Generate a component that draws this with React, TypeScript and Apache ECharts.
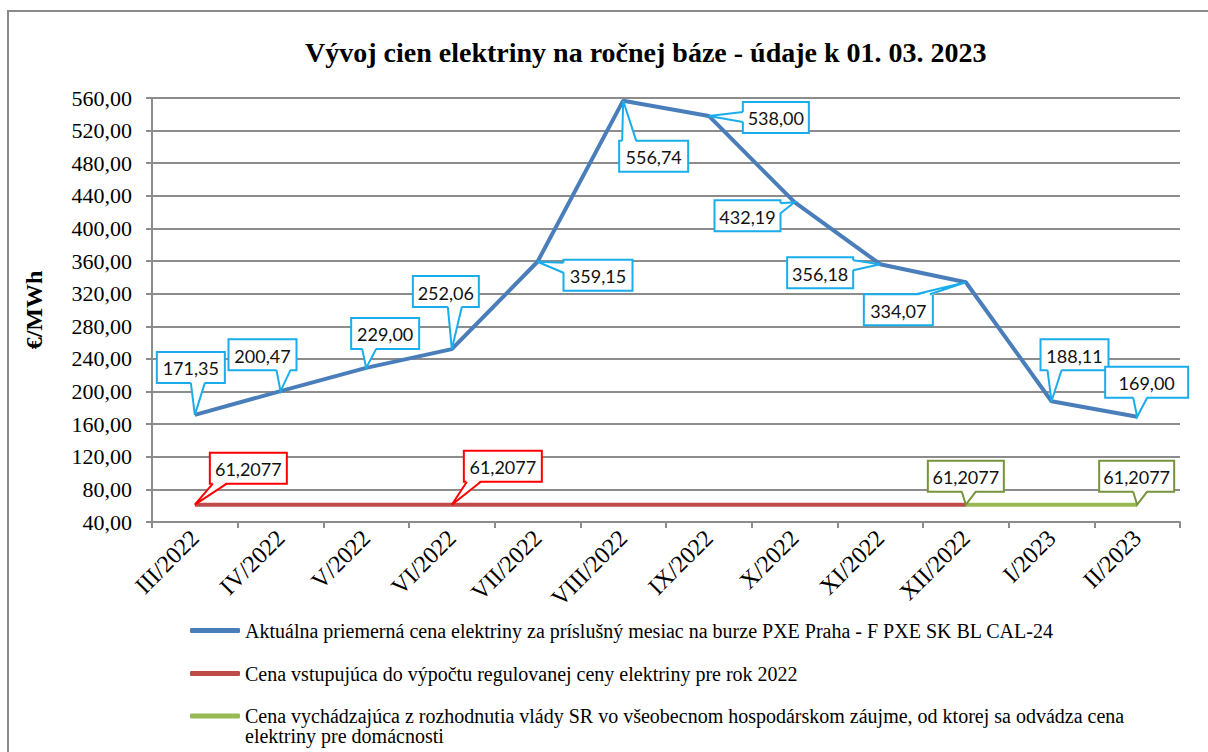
import React, { useEffect, useRef } from "react";
import * as echarts from "echarts";

const TITLE = "Vývoj cien elektriny na ročnej báze - údaje k 01. 03. 2023";
const Y_NAME = "€/MWh";

const categories = [
  "III/2022", "IV/2022", "V/2022", "VI/2022", "VII/2022", "VIII/2022",
  "IX/2022", "X/2022", "XI/2022", "XII/2022", "I/2023", "II/2023",
];

const seriesNames = [
  "Aktuálna priemerná cena elektriny za príslušný mesiac na burze PXE Praha - F PXE SK BL CAL-24",
  "Cena vstupujúca do výpočtu regulovanej ceny elektriny pre rok 2022",
  "Cena vychádzajúca z rozhodnutia vlády SR vo všeobecnom hospodárskom záujme, od ktorej sa odvádza cena elektriny pre domácnosti",
];

const pxeValues = [171.35, 200.47, 229.0, 252.06, 359.15, 556.74, 538.0, 432.19, 356.18, 334.07, 188.11, 169.0];
const regulated2022 = [61.2077, 61.2077, 61.2077, 61.2077, 61.2077, 61.2077, 61.2077, 61.2077, 61.2077, 61.2077, null, null];
const governmentPrice = [null, null, null, null, null, null, null, null, null, 61.2077, 61.2077, 61.2077];

// which points carry a callout label
const pxeLabelIdx = [0, 1, 2, 3, 4, 5, 6, 7, 8, 9, 10, 11];
const regulatedLabelIdx = [0, 3];
const governmentLabelIdx = [9, 11];

// callout box layout relative to its point: [dx, dy, width]
const pxeBoxes = [
  [-38, -63, 68], [-52, -52, 68], [-15, -50, 68], [-39, -73, 66],
  [26, -2, 69], [-4, 40, 69], [34, -14, 66], [-80, -2, 66],
  [-93, -7, 66], [-102, 12, 69], [-11, -62, 68], [-32, -50, 83],
];
const regulatedBoxes = [[15, -52, 77], [12, -54, 78]];
const governmentBoxes = [[-38, -44, 76], [-38, -44, 75]];

const BLUE = "#4A7EBB";
const RED = "#BE4B48";
const GREEN = "#98B954";
const GRID = "#8C8C8C";
const SERIF = "'Liberation Serif', 'Times New Roman', serif";
const LABEL_FONT = "Lato, 'Noto Sans', sans-serif";

function fmt(v: number, d: number) {
  return v.toFixed(d).replace(".", ",");
}

function calloutSeries(values: (number | null)[], idx: number[], boxes: number[][], color: string, decimals: number) {
  const data = idx.map((i) => [i, values[i] as number]);
  return {
    type: "custom",
    z: 10,
    clip: false,
    silent: true,
    data,
    renderItem: (params: any, api: any) => {
      const k = params.dataIndex;
      const val = api.value(1);
      const p = api.coord([api.value(0), val]);
      const [dx, dy, w] = boxes[k];
      const h = 31;
      const x0 = p[0] + dx;
      const y0 = p[1] + dy;
      const x1 = x0 + w;
      const y1 = y0 + h;
      const clamp = (v: number, a: number, b: number) => Math.max(a, Math.min(b, v));
      let b1: number[], b2: number[], i1: number[], i2: number[];
      if (p[1] > y1) {
        const s = clamp(p[0] - 4, x0 + 3, x1 - 17);
        b1 = [s, y1]; b2 = [s + 14, y1]; i1 = [s, y1 - 1.5]; i2 = [s + 14, y1 - 1.5];
      } else if (p[1] < y0) {
        const s = clamp(p[0] - 4, x0 + 3, x1 - 17);
        b1 = [s, y0]; b2 = [s + 14, y0]; i1 = [s, y0 + 1.5]; i2 = [s + 14, y0 + 1.5];
      } else if (p[0] < x0) {
        const s = clamp(p[1] - 4, y0 + 3, y1 - 15);
        b1 = [x0, s]; b2 = [x0, s + 10]; i1 = [x0 + 1.5, s]; i2 = [x0 + 1.5, s + 10];
      } else {
        const s = clamp(p[1] - 4, y0 + 3, y1 - 15);
        b1 = [x1, s]; b2 = [x1, s + 10]; i1 = [x1 - 1.5, s]; i2 = [x1 - 1.5, s + 10];
      }
      return {
        type: "group",
        children: [
          { type: "rect", shape: { x: x0, y: y0, width: w, height: h }, style: { fill: "#fff", stroke: color, lineWidth: 2 } },
          { type: "polygon", shape: { points: [i1, i2, p] }, style: { fill: "#fff" } },
          { type: "polyline", shape: { points: [b1, p, b2] }, style: { fill: null, stroke: color, lineWidth: 2 } },
          {
            type: "text",
            style: {
              x: x0 + w / 2, y: y0 + h / 2 + 1, text: fmt(val, decimals),
              align: "center", verticalAlign: "middle", fill: "#111",
              fontFamily: LABEL_FONT, fontSize: 18,
            },
          },
        ],
      };
    },
  };
}

export default function App() {
  const ref = useRef<HTMLDivElement>(null);
  useEffect(() => {
    if (!ref.current) return;
    const chart = echarts.init(ref.current, null, { renderer: "svg" });
    const lineSeries = (name: string, data: (number | null)[], color: string) => ({
      name, type: "line", data, symbol: "none", z: 3,
      lineStyle: { color, width: 4 }, itemStyle: { color },
      connectNulls: false,
    });
    chart.setOption({
      animation: false,
      backgroundColor: "#fff",
      title: {
        text: TITLE, left: 305, top: 38, padding: 0,
        textStyle: { fontFamily: SERIF, fontSize: 28, fontWeight: "bold", color: "#000" },
      },
      graphic: [
        { type: "rect", shape: { x: 8, y: 11, width: 1220, height: 780 }, style: { fill: null, stroke: "#8A8A8A", lineWidth: 2 }, silent: true, z: -10 },
      ],
      grid: { left: 152, right: 28, top: 98, bottom: 230 },
      xAxis: {
        type: "category", data: categories, boundaryGap: true,
        axisLine: { lineStyle: { color: GRID, width: 2 } },
        axisTick: { show: true, length: 6, lineStyle: { color: GRID, width: 2 } },
        axisLabel: { rotate: 45, margin: 12, color: "#000", fontFamily: SERIF, fontSize: 24, interval: 0 },
      },
      yAxis: {
        type: "value", min: 40, max: 560, interval: 40,
        name: Y_NAME, nameLocation: "middle", nameRotate: 90, nameGap: 106,
        nameTextStyle: { fontFamily: SERIF, fontSize: 24, fontWeight: "bold", color: "#000" },
        axisLine: { show: true, lineStyle: { color: GRID, width: 2 } },
        axisTick: { show: true, length: 6, lineStyle: { color: GRID, width: 2 } },
        splitLine: { lineStyle: { color: GRID, width: 2 } },
        axisLabel: { formatter: (v: number) => fmt(v, 2), margin: 20, color: "#000", fontFamily: SERIF, fontSize: 22 },
      },
      legend: [
        {
          data: [seriesNames[0], seriesNames[1]], orient: "vertical", left: 190, top: 620, padding: 0,
          itemGap: 22, itemWidth: 50, itemHeight: 5, icon: "roundRect",
          textStyle: { fontFamily: SERIF, fontSize: 20, lineHeight: 21, color: "#000" },
        },
        {
          data: [seriesNames[2]], orient: "vertical", left: 190, top: 686, padding: 0,
          itemWidth: 50, itemHeight: 5, icon: "roundRect",
          formatter: (n: string) => "\n" + n.replace(" elektriny pre", "\nelektriny pre"),
          textStyle: { fontFamily: SERIF, fontSize: 20, lineHeight: 20, color: "#000" },
        },
      ],
      series: [
        lineSeries(seriesNames[0], pxeValues, BLUE),
        lineSeries(seriesNames[1], regulated2022, RED),
        lineSeries(seriesNames[2], governmentPrice, GREEN),
        calloutSeries(pxeValues, pxeLabelIdx, pxeBoxes, "#1AADEB", 2),
        calloutSeries(regulated2022, regulatedLabelIdx, regulatedBoxes, "#FF0000", 4),
        calloutSeries(governmentPrice, governmentLabelIdx, governmentBoxes, "#77933C", 4),
      ],
    });
    return () => chart.dispose();
  }, []);
  return <div ref={ref} style={{ position: "absolute", left: 0, top: 0, width: 1208, height: 752 }} />;
}
